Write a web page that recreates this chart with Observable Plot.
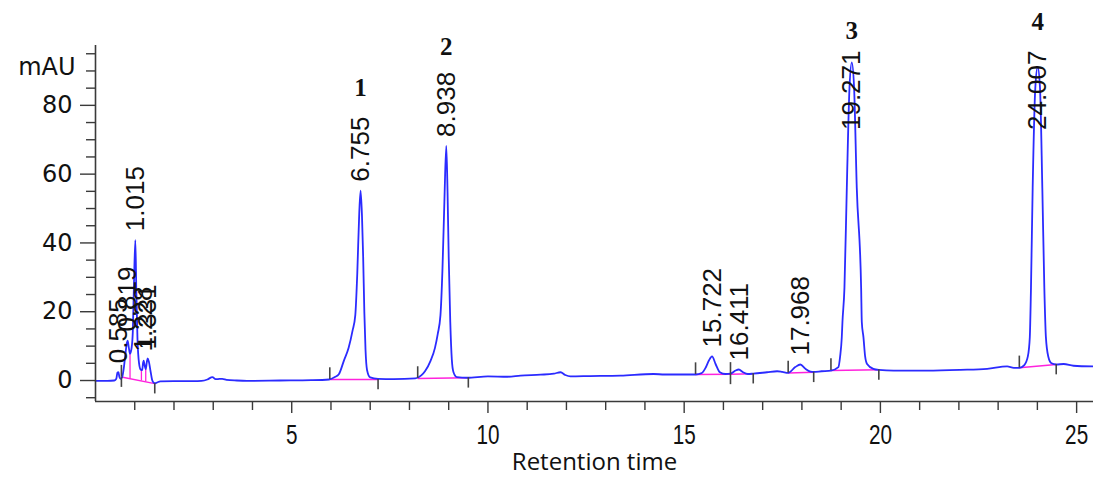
<!DOCTYPE html>
<html>
<head>
<meta charset="utf-8">
<script src="https://cdn.jsdelivr.net/npm/d3@7"></script>
<script src="https://cdn.jsdelivr.net/npm/@observablehq/plot@0.6"></script>
<style>
  html, body { margin: 0; padding: 0; background: #fff; }
  #chart svg { display: block; }
</style>
</head>
<body>
<div id="chart"></div>
<script>
// ---- Chromatogram trace (retention time in min, absorbance in mAU) ----
const traceTime = [
  0, 0.3, 0.48, 0.53, 0.56, 0.585, 0.61, 0.64, 0.68, 0.72, 0.76, 0.8, 0.819, 0.85, 0.88, 0.92, 0.95, 0.98, 1.015, 1.04, 1.07, 1.11, 1.15, 1.19, 1.21, 1.228, 1.25, 1.28, 1.31, 1.331, 1.36, 1.40, 1.44, 1.48, 1.52, 1.58, 1.65, 2.0, 2.5, 2.7, 2.85, 2.98, 3.06, 3.15, 3.23, 3.34, 3.6, 3.86, 4.7, 5.5, 5.95,
  6.1, 6.2, 6.33, 6.45, 6.55, 6.62, 6.67, 6.72, 6.755, 6.79, 6.82, 6.85, 6.88, 6.92, 7.0, 7.2, 7.6, 8.15,
  8.3, 8.4, 8.54, 8.65, 8.72, 8.79, 8.84, 8.89, 8.938, 8.97, 9.0, 9.04, 9.08, 9.12, 9.21, 9.47, 10.0, 10.5, 10.83, 11.34, 11.68, 11.85, 11.97, 12.1, 12.6, 13.38, 14.22, 14.5,
  15.29, 15.45, 15.55, 15.63, 15.71, 15.8, 15.91, 16.05, 16.18, 16.31, 16.39, 16.5, 16.62, 16.76, 17.11, 17.37, 17.5, 17.65, 17.83, 17.96, 18.09, 18.22, 18.3, 18.5, 18.74,
  18.93, 18.974, 19.016, 19.033, 19.084, 19.144, 19.212, 19.271, 19.33, 19.398, 19.509, 19.526, 19.568, 19.611, 19.66, 19.82, 19.96,
  20.34, 21.19, 22.04, 22.72, 23.23, 23.4, 23.54,
  23.667, 23.757, 23.807, 23.837, 23.88, 23.947, 24.007, 24.067, 24.126, 24.177, 24.217, 24.277, 24.36, 24.48, 24.67, 24.92, 25.43
];
const traceMAU = [
  -0.1, -0.1, 0, 0.5, 2.3, 2.4, 1.0, 0.5, 1.0, 3.5, 7.5, 11.0, 11.6, 9.5, 7.8, 9.5, 14, 28, 40.8, 26, 12, 5, 3.2, 3.0, 5.0, 5.8, 4.5, 3.3, 5.5, 6.4, 5.5, 2.9, 0.3, -0.6, -0.8, -0.5, -0.25, -0.2, -0.2, -0.1, 0.3, 1.0, 0.4, 0.45, 0.5, 0.2, 0.0, -0.1, 0.0, 0.1, 0.3,
  1.0, 1.8, 5.8, 9.5, 14.5, 19, 31, 48.5, 55.2, 48, 36, 20, 9, 3, 0.9, 0.5, 0.4, 0.6,
  1.5, 2.8, 5.8, 9.5, 13.5, 19, 32, 52, 68.2, 55, 36, 17, 6, 2.5, 1.0, 0.8, 1.2, 1.1, 1.45, 1.7, 2.0, 2.4, 1.6, 1.2, 1.3, 1.45, 1.9, 1.75,
  1.75, 2.2, 3.8, 5.8, 7.0, 4.8, 2.4, 1.9, 2.0, 2.9, 3.2, 2.4, 1.9, 2.0, 2.4, 2.7, 2.5, 2.2, 3.9, 4.65, 3.4, 2.6, 2.5, 2.7, 2.9,
  3.9, 7, 12.6, 17, 27, 56, 85, 92.5, 85, 56, 27, 17, 12.6, 7, 4.8, 3.4, 3.1,
  2.9, 2.9, 3.1, 3.4, 4.1, 3.7, 3.7,
  4.5, 7, 12.6, 27, 56, 85, 91.2, 85, 56, 27, 12.6, 7, 5.0, 4.65, 4.8, 4.3, 4.1
];

// ---- Integrated peaks (labels) ----
const peakTime = [0.585, 0.819, 1.015, 1.228, 1.331, 6.755, 8.938, 15.722, 16.411, 17.968, 19.271, 24.007];
const peakHeight = [2.4, 11.6, 40.8, 5.8, 6.4, 55.2, 68.2, 7.0, 3.2, 4.65, 92.5, 91.2];

// ---- Compound numbers ----
const compoundLabel = ["1", "2", "3", "4"];
const compoundTime = [6.755, 8.938, 19.271, 24.007];
const compoundY = [84.9, 97.1, 101.7, 104.1];

// ---- Integration baselines (magenta) ----
const baseStartT = [0.66, 5.97, 8.21, 15.29, 16.18, 17.65, 18.74, 23.54];
const baseStartV = [1.0, 0.3, 0.6, 1.74, 1.8, 2.2, 2.9, 3.7];
const baseEndT = [1.51, 7.2, 9.5, 16.18, 16.76, 18.3, 19.96, 24.48];
const baseEndV = [-0.9, 0.3, 0.8, 1.8, 2.0, 2.4, 3.1, 4.65];

// ---- Drop lines in the early cluster (magenta) ----
const dropT = [0.88, 1.17, 1.28];
const dropLow = [0.51, -0.14, -0.39];
const dropHigh = [7.8, 3.1, 3.3];

// ---- Integration event markers ----
const eventT = [0.66, 1.51, 5.97, 7.2, 8.21, 9.5, 15.29, 16.18, 16.76, 17.65, 18.3, 18.74, 19.96, 23.54, 24.48];
const eventV = [1.0, -0.9, 0.3, 0.3, 0.6, 0.8, 1.74, 1.8, 2.0, 2.2, 2.4, 2.9, 3.1, 3.7, 4.65];
const eventKind = ["both", "end", "start", "end", "start", "end", "start", "both", "end", "start", "end", "start", "end", "start", "end"];

// ---- Axes ----
const xDomain = [0, 25.43];
const yDomain = [-6.1, 97.4];
const xMajor = [5, 10, 15, 20, 25];
const xMinor = d3.range(1, 26).filter(d => d % 5 !== 0);
const yMajor = [0, 20, 40, 60, 80];
const yMinor = [-5, 5, 10, 15, 25, 30, 35, 45, 50, 55, 65, 70, 75, 85, 90, 95];
const yUnitAt = [90];

// build tables
const trace = traceTime.map((t, i) => ({t, v: traceMAU[i]}));
const peaks = peakTime.map((t, i) => ({t, h: peakHeight[i], label: t.toFixed(3)}));
const compounds = compoundLabel.map((s, i) => ({s, t: compoundTime[i], y: compoundY[i]}));
const baselines = baseStartT.map((t, i) => ({t1: t, v1: baseStartV[i], t2: baseEndT[i], v2: baseEndV[i]}));
const drops = dropT.map((t, i) => ({t, lo: dropLow[i], hi: dropHigh[i]}));
const events = eventT.map((t, i) => ({t, v: eventV[i], kind: eventKind[i]}));
const upLen = 3.4, downLen = 3.0;

const AX = "#3a3a3a";
const BLUE = "#2b2bff";
const MAG = "#ff22dd";

const chart = Plot.plot({
  width: 1093,
  height: 477,
  marginLeft: 95,
  marginRight: 0,
  marginTop: 45,
  marginBottom: 76,
  style: {background: "#fff"},
  x: {domain: xDomain},
  y: {domain: yDomain},
  marks: [
    // integration baselines
    Plot.link(baselines, {x1: "t1", y1: "v1", x2: "t2", y2: "v2", stroke: MAG, strokeWidth: 1.5}),
    Plot.ruleX(drops, {x: "t", y1: "lo", y2: "hi", stroke: MAG, strokeWidth: 1.3}),
    // trace
    Plot.line(trace, {x: "t", y: "v", stroke: BLUE, strokeWidth: 1.8, curve: "monotone-x"}),
    // event markers
    Plot.ruleX(events.filter(d => d.kind !== "end"), {x: "t", y1: "v", y2: d => d.v + upLen, stroke: "#444", strokeWidth: 1.6}),
    Plot.ruleX(events.filter(d => d.kind !== "start"), {x: "t", y1: "v", y2: d => d.v - downLen, stroke: "#444", strokeWidth: 1.6}),
    // peak labels
    Plot.text(peaks.filter(d => d.h < 80), {x: "t", y: "h", text: "label", rotate: -90, textAnchor: "start", dy: -9, fontSize: 26, fontFamily: "Liberation Sans, Arial, sans-serif", fill: "#111"}),
    Plot.text(peaks.filter(d => d.h >= 80), {x: "t", y: () => yDomain[1], text: "label", rotate: -90, textAnchor: "end", dy: 5, fontSize: 26, fontFamily: "Liberation Sans, Arial, sans-serif", fill: "#111"}),
    // compound numbers
    Plot.text(compounds, {x: "t", y: "y", text: "s", fontSize: 25, fontWeight: "bold", fontFamily: "Liberation Serif, Times New Roman, serif", fill: "#111"}),
    // axes
    Plot.axisY({ticks: yMajor, tickSize: 15, tickPadding: 8, fontSize: 24, fontFamily: "DejaVu Sans, sans-serif", stroke: AX, strokeWidth: 1.4, color: "#111", label: null}),
    Plot.axisY({ticks: yMinor, tickSize: 9, tickFormat: () => "", stroke: AX, strokeWidth: 1.4, label: null}),
    Plot.text(yUnitAt, {y: d => d, frameAnchor: "left", text: () => "mAU", textAnchor: "end", dx: -20, dy: -4, fontSize: 24, fontFamily: "DejaVu Sans, sans-serif", fill: "#111"}),
    Plot.axisX({ticks: xMajor, tickSize: 12, tickPadding: 11, fontSize: 28, fontFamily: "Liberation Sans, Arial, sans-serif", stroke: AX, strokeWidth: 1.4, color: "#111", label: null}),
    Plot.axisX({ticks: xMinor, tickSize: 9, tickFormat: () => "", stroke: AX, strokeWidth: 1.4, label: null}),
    Plot.ruleX([xDomain[0]], {stroke: AX, strokeWidth: 1.6}),
    Plot.ruleY([yDomain[0]], {stroke: AX, strokeWidth: 1.6}),
    Plot.text(["Retention time"], {frameAnchor: "bottom", dy: 68, fontSize: 24, fontWeight: 500, fontFamily: "Open Sans, sans-serif", fill: "#111"})
  ]
});

document.getElementById("chart").appendChild(chart);

// condensed look of the x tick labels
d3.select(chart).selectAll('g[aria-label="x-axis tick label"] text')
  .attr("transform", function () { return (this.getAttribute("transform") || "") + " scale(0.74,1)"; });
</script>
</body>
</html>
